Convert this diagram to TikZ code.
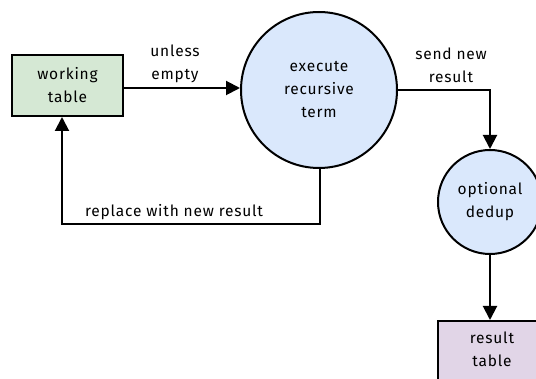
\documentclass[tikz,border=0pt]{standalone}
\usepackage{fontspec}
\setmainfont{Fira Sans}[LetterSpace=5]
\usetikzlibrary{arrows.meta}
\definecolor{greenfill}{HTML}{D5E8D4}
\definecolor{bluefill}{HTML}{DAE8FC}
\definecolor{purplefill}{HTML}{E1D5E7}
\begin{document}
\begin{tikzpicture}[x=1pt,y=-1pt,
  every node/.style={font=\fontsize{15.5}{23}\selectfont, align=center},
  box/.style={draw, line width=2pt, inner sep=0pt},
  proc/.style={draw, circle, line width=2pt, fill=bluefill, inner sep=0pt},
  flow/.style={line width=2pt, -{Triangle[length=14pt,width=14pt]}},
  lbl/.style={inner sep=0pt}]
\useasboundingbox (0,0) rectangle (536,379);
\clip (0,0) rectangle (536,379);
% nodes
\node[box, fill=greenfill, minimum width=111pt, minimum height=61pt] (work) at (67.5,85.5) {working\\table};
\node[proc, minimum size=156pt] (exec) at (319,90) {execute\\recursive\\term};
\node[proc, minimum size=104pt] (dedup) at (490,202) {optional\\dedup};
\node[box, fill=purplefill, minimum width=110pt, minimum height=70pt, anchor=north west] (result) at (437,320) {};
\node at (492,349) {result\\table};
% connectors
\draw[flow] (work.east |- 0,88) -- (exec.west |- 0,88);
\node[lbl] at (175,64) {unless\\empty};
\draw[flow] (exec.east |- 0,90) -| (dedup.north);
\node[lbl] at (451,65) {send new\\result};
\draw[flow] (dedup.south) -- (result.north -| dedup.south);
\coordinate (loopR) at (320,224);
\coordinate (loopL) at (62,224);
\draw[flow] (exec.south -| loopR) -- (loopR) -- (loopL) -- (work.south -| loopL);
\node[lbl, anchor=west] at (85,212) {replace with new result};
\end{tikzpicture}
\end{document}
